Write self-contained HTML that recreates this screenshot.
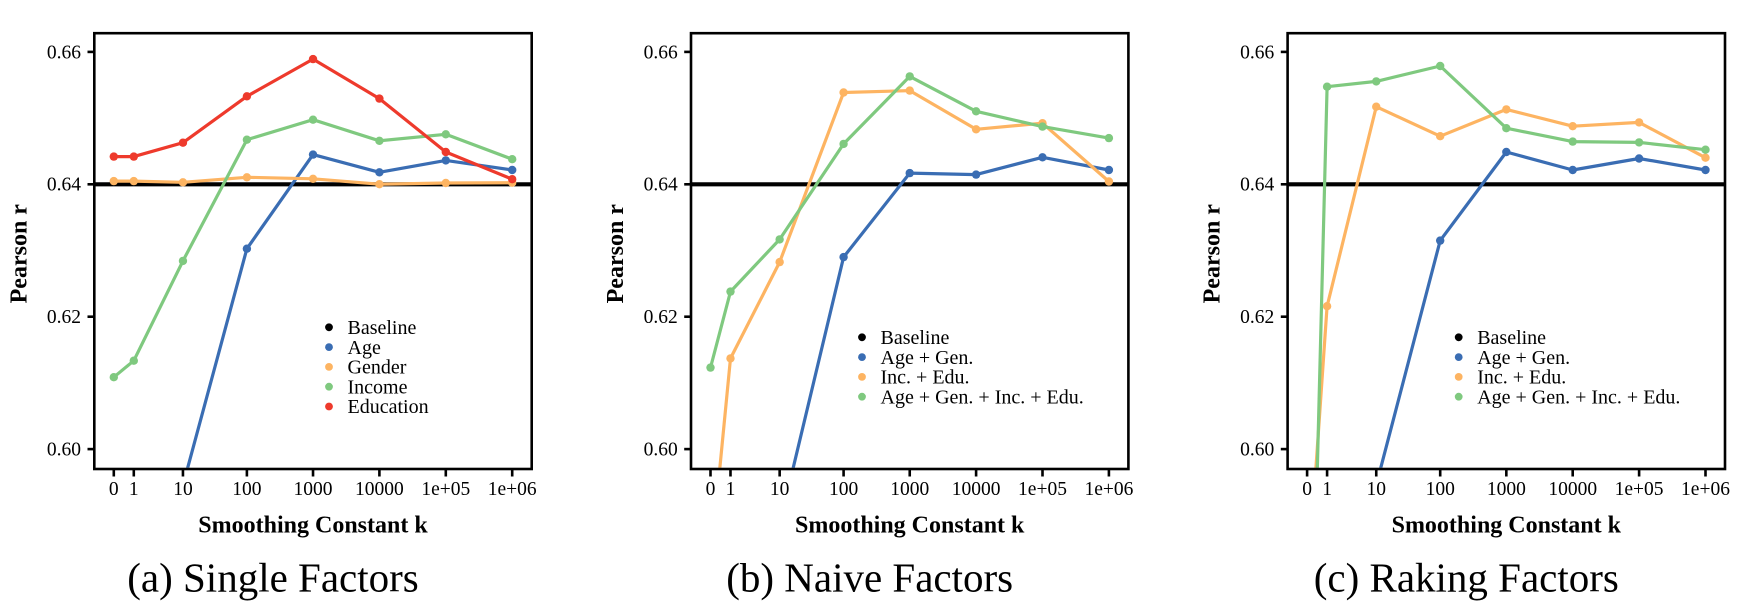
<!DOCTYPE html>
<html><head><meta charset="utf-8"><style>
html,body{margin:0;padding:0;background:#fff;width:1740px;height:602px;overflow:hidden;}
svg{display:block;}
text{font-family:"Liberation Serif",serif;fill:#000;}
.tk{font-size:19.5px;}
.lg{font-size:20px;}
.ti{font-size:24px;font-weight:bold;}
.cap{font-size:41px;}
</style></head><body>
<svg width="1740" height="602" viewBox="0 0 1740 602" xmlns="http://www.w3.org/2000/svg">
<defs>
<clipPath id="ca"><rect x="95.6" y="34.5" width="434.8" height="433.2"/></clipPath>
<clipPath id="cb"><rect x="692.3" y="34.5" width="434.8" height="433.2"/></clipPath>
<clipPath id="cc"><rect x="1288.9" y="34.5" width="434.8" height="433.2"/></clipPath>
</defs>
<rect width="1740" height="602" fill="#fff"/>

<!-- ================= PANEL A ================= -->
<g>
<line x1="94.3" y1="184.3" x2="531.7" y2="184.3" stroke="#000" stroke-width="4.2"/>
<g clip-path="url(#ca)" fill="none" stroke-width="3.2" stroke-linejoin="round">
<polyline stroke="#3A6DB3" points="187.35,469 246.89,248.7 313.03,154.6 379.4,172.3 445.8,160.4 512.2,170"/>
<polyline stroke="#FDB462" points="113.8,181.1 133.79,181.1 182.95,182.3 246.89,177.3 313.03,178.8 379.4,184.2 445.8,183 512.2,182.7"/>
<polyline stroke="#7FC97F" points="113.8,377.2 133.79,360.7 182.95,260.9 246.89,139.7 313.03,119.7 379.4,140.8 445.8,134.3 512.2,159.2"/>
<polyline stroke="#EE3A2C" points="113.8,156.6 133.79,156.6 182.95,142.7 246.89,96.3 313.03,59.1 379.4,98.6 445.8,152 512.2,179.2"/>
</g>
<g clip-path="url(#ca)">
<g fill="#3A6DB3"><circle cx="246.89" cy="248.7" r="4.2"/><circle cx="313.03" cy="154.6" r="4.2"/><circle cx="379.4" cy="172.3" r="4.2"/><circle cx="445.8" cy="160.4" r="4.2"/><circle cx="512.2" cy="170" r="4.2"/></g>
<g fill="#FDB462"><circle cx="113.8" cy="181.1" r="4.2"/><circle cx="133.79" cy="181.1" r="4.2"/><circle cx="182.95" cy="182.3" r="4.2"/><circle cx="246.89" cy="177.3" r="4.2"/><circle cx="313.03" cy="178.8" r="4.2"/><circle cx="379.4" cy="184.2" r="4.2"/><circle cx="445.8" cy="183" r="4.2"/><circle cx="512.2" cy="182.7" r="4.2"/></g>
<g fill="#7FC97F"><circle cx="113.8" cy="377.2" r="4.2"/><circle cx="133.79" cy="360.7" r="4.2"/><circle cx="182.95" cy="260.9" r="4.2"/><circle cx="246.89" cy="139.7" r="4.2"/><circle cx="313.03" cy="119.7" r="4.2"/><circle cx="379.4" cy="140.8" r="4.2"/><circle cx="445.8" cy="134.3" r="4.2"/><circle cx="512.2" cy="159.2" r="4.2"/></g>
<g fill="#EE3A2C"><circle cx="113.8" cy="156.6" r="4.2"/><circle cx="133.79" cy="156.6" r="4.2"/><circle cx="182.95" cy="142.7" r="4.2"/><circle cx="246.89" cy="96.3" r="4.2"/><circle cx="313.03" cy="59.1" r="4.2"/><circle cx="379.4" cy="98.6" r="4.2"/><circle cx="445.8" cy="152" r="4.2"/><circle cx="512.2" cy="179.2" r="4.2"/></g>
</g>
<rect x="94.3" y="33.2" width="437.4" height="435.8" fill="none" stroke="#000" stroke-width="2.6"/>
<g stroke="#000" stroke-width="2.6">
<line x1="87.5" y1="51.9" x2="94.3" y2="51.9"/><line x1="87.5" y1="184.3" x2="94.3" y2="184.3"/><line x1="87.5" y1="316.7" x2="94.3" y2="316.7"/><line x1="87.5" y1="449.1" x2="94.3" y2="449.1"/>
<line x1="113.8" y1="469" x2="113.8" y2="476.5"/><line x1="133.79" y1="469" x2="133.79" y2="476.5"/><line x1="182.95" y1="469" x2="182.95" y2="476.5"/><line x1="246.89" y1="469" x2="246.89" y2="476.5"/><line x1="313.03" y1="469" x2="313.03" y2="476.5"/><line x1="379.4" y1="469" x2="379.4" y2="476.5"/><line x1="445.8" y1="469" x2="445.8" y2="476.5"/><line x1="512.2" y1="469" x2="512.2" y2="476.5"/>
</g>
<g class="tk" text-anchor="end"><text x="81" y="58.3">0.66</text><text x="81" y="190.7">0.64</text><text x="81" y="323.1">0.62</text><text x="81" y="455.5">0.60</text></g>
<g class="tk" text-anchor="middle"><text x="113.8" y="495">0</text><text x="133.79" y="495">1</text><text x="182.95" y="495">10</text><text x="246.89" y="495">100</text><text x="313.03" y="495">1000</text><text x="379.4" y="495">10000</text><text x="445.8" y="495">1e+05</text><text x="512.2" y="495">1e+06</text></g>
<text class="ti" x="313" y="532.7" text-anchor="middle">Smoothing Constant k</text>
<text class="ti" transform="translate(26.3,253.7) rotate(-90)" text-anchor="middle">Pearson r</text>
<g><circle cx="329" cy="327.3" r="3.9" fill="#000"/><circle cx="329" cy="347.1" r="3.9" fill="#3A6DB3"/><circle cx="329" cy="366.9" r="3.9" fill="#FDB462"/><circle cx="329" cy="386.7" r="3.9" fill="#7FC97F"/><circle cx="329" cy="406.5" r="3.9" fill="#EE3A2C"/></g>
<g class="lg"><text x="347.5" y="334">Baseline</text><text x="347.5" y="353.8">Age</text><text x="347.5" y="373.6">Gender</text><text x="347.5" y="393.4">Income</text><text x="347.5" y="413.2">Education</text></g>
<text class="cap" x="273" y="591.7" text-anchor="middle">(a) Single Factors</text>
</g>

<!-- ================= PANEL B ================= -->
<g>
<line x1="691" y1="184.3" x2="1128.4" y2="184.3" stroke="#000" stroke-width="4.2"/>
<g clip-path="url(#cb)" fill="none" stroke-width="3.2" stroke-linejoin="round">
<polyline stroke="#3A6DB3" points="792.92,469 843.59,257.1 909.73,173.1 976.1,174.6 1042.5,157.3 1108.9,170"/>
<polyline stroke="#FDB462" points="719.74,469 730.49,358.4 779.65,262.1 843.59,92.5 909.73,90.6 976.1,129.3 1042.5,123.2 1108.9,181.5"/>
<polyline stroke="#7FC97F" points="710.5,367.6 730.49,291.6 779.65,239.4 843.59,143.9 909.73,76.4 976.1,111.3 1042.5,126.6 1108.9,138.1"/>
</g>
<g clip-path="url(#cb)">
<g fill="#3A6DB3"><circle cx="843.59" cy="257.1" r="4.2"/><circle cx="909.73" cy="173.1" r="4.2"/><circle cx="976.1" cy="174.6" r="4.2"/><circle cx="1042.5" cy="157.3" r="4.2"/><circle cx="1108.9" cy="170" r="4.2"/></g>
<g fill="#FDB462"><circle cx="730.49" cy="358.4" r="4.2"/><circle cx="779.65" cy="262.1" r="4.2"/><circle cx="843.59" cy="92.5" r="4.2"/><circle cx="909.73" cy="90.6" r="4.2"/><circle cx="976.1" cy="129.3" r="4.2"/><circle cx="1042.5" cy="123.2" r="4.2"/><circle cx="1108.9" cy="181.5" r="4.2"/></g>
<g fill="#7FC97F"><circle cx="710.5" cy="367.6" r="4.2"/><circle cx="730.49" cy="291.6" r="4.2"/><circle cx="779.65" cy="239.4" r="4.2"/><circle cx="843.59" cy="143.9" r="4.2"/><circle cx="909.73" cy="76.4" r="4.2"/><circle cx="976.1" cy="111.3" r="4.2"/><circle cx="1042.5" cy="126.6" r="4.2"/><circle cx="1108.9" cy="138.1" r="4.2"/></g>
</g>
<rect x="691" y="33.2" width="437.4" height="435.8" fill="none" stroke="#000" stroke-width="2.6"/>
<g stroke="#000" stroke-width="2.6">
<line x1="684.2" y1="51.9" x2="691" y2="51.9"/><line x1="684.2" y1="184.3" x2="691" y2="184.3"/><line x1="684.2" y1="316.7" x2="691" y2="316.7"/><line x1="684.2" y1="449.1" x2="691" y2="449.1"/>
<line x1="710.5" y1="469" x2="710.5" y2="476.5"/><line x1="730.49" y1="469" x2="730.49" y2="476.5"/><line x1="779.65" y1="469" x2="779.65" y2="476.5"/><line x1="843.59" y1="469" x2="843.59" y2="476.5"/><line x1="909.73" y1="469" x2="909.73" y2="476.5"/><line x1="976.1" y1="469" x2="976.1" y2="476.5"/><line x1="1042.5" y1="469" x2="1042.5" y2="476.5"/><line x1="1108.9" y1="469" x2="1108.9" y2="476.5"/>
</g>
<g class="tk" text-anchor="end"><text x="677.7" y="58.3">0.66</text><text x="677.7" y="190.7">0.64</text><text x="677.7" y="323.1">0.62</text><text x="677.7" y="455.5">0.60</text></g>
<g class="tk" text-anchor="middle"><text x="710.5" y="495">0</text><text x="730.49" y="495">1</text><text x="779.65" y="495">10</text><text x="843.59" y="495">100</text><text x="909.73" y="495">1000</text><text x="976.1" y="495">10000</text><text x="1042.5" y="495">1e+05</text><text x="1108.9" y="495">1e+06</text></g>
<text class="ti" x="909.7" y="532.7" text-anchor="middle">Smoothing Constant k</text>
<text class="ti" transform="translate(623,253.7) rotate(-90)" text-anchor="middle">Pearson r</text>
<g><circle cx="862" cy="337.3" r="3.9" fill="#000"/><circle cx="862" cy="357.1" r="3.9" fill="#3A6DB3"/><circle cx="862" cy="376.9" r="3.9" fill="#FDB462"/><circle cx="862" cy="396.7" r="3.9" fill="#7FC97F"/></g>
<g class="lg"><text x="880.5" y="344">Baseline</text><text x="880.5" y="363.8">Age + Gen.</text><text x="880.5" y="383.6">Inc. + Edu.</text><text x="880.5" y="403.4">Age + Gen. + Inc. + Edu.</text></g>
<text class="cap" x="869.7" y="591.7" text-anchor="middle">(b) Naive Factors</text>
</g>

<!-- ================= PANEL C ================= -->
<g>
<line x1="1287.6" y1="184.3" x2="1725" y2="184.3" stroke="#000" stroke-width="4.2"/>
<g clip-path="url(#cc)" fill="none" stroke-width="3.2" stroke-linejoin="round">
<polyline stroke="#3A6DB3" points="1380.44,469 1440.19,240.6 1506.33,152 1572.7,170 1639.1,158.5 1705.5,170"/>
<polyline stroke="#FDB462" points="1315.85,469 1327.09,306.2 1376.25,106.7 1440.19,136.2 1506.33,109.4 1572.7,126.2 1639.1,122.4 1705.5,157.7"/>
<polyline stroke="#7FC97F" points="1317.32,469 1327.09,86.7 1376.25,81.4 1440.19,66 1506.33,128.2 1572.7,141.6 1639.1,142.4 1705.5,149.7"/>
</g>
<g clip-path="url(#cc)">
<g fill="#3A6DB3"><circle cx="1440.19" cy="240.6" r="4.2"/><circle cx="1506.33" cy="152" r="4.2"/><circle cx="1572.7" cy="170" r="4.2"/><circle cx="1639.1" cy="158.5" r="4.2"/><circle cx="1705.5" cy="170" r="4.2"/></g>
<g fill="#FDB462"><circle cx="1327.09" cy="306.2" r="4.2"/><circle cx="1376.25" cy="106.7" r="4.2"/><circle cx="1440.19" cy="136.2" r="4.2"/><circle cx="1506.33" cy="109.4" r="4.2"/><circle cx="1572.7" cy="126.2" r="4.2"/><circle cx="1639.1" cy="122.4" r="4.2"/><circle cx="1705.5" cy="157.7" r="4.2"/></g>
<g fill="#7FC97F"><circle cx="1327.09" cy="86.7" r="4.2"/><circle cx="1376.25" cy="81.4" r="4.2"/><circle cx="1440.19" cy="66" r="4.2"/><circle cx="1506.33" cy="128.2" r="4.2"/><circle cx="1572.7" cy="141.6" r="4.2"/><circle cx="1639.1" cy="142.4" r="4.2"/><circle cx="1705.5" cy="149.7" r="4.2"/></g>
</g>
<rect x="1287.6" y="33.2" width="437.4" height="435.8" fill="none" stroke="#000" stroke-width="2.6"/>
<g stroke="#000" stroke-width="2.6">
<line x1="1280.8" y1="51.9" x2="1287.6" y2="51.9"/><line x1="1280.8" y1="184.3" x2="1287.6" y2="184.3"/><line x1="1280.8" y1="316.7" x2="1287.6" y2="316.7"/><line x1="1280.8" y1="449.1" x2="1287.6" y2="449.1"/>
<line x1="1307.1" y1="469" x2="1307.1" y2="476.5"/><line x1="1327.09" y1="469" x2="1327.09" y2="476.5"/><line x1="1376.25" y1="469" x2="1376.25" y2="476.5"/><line x1="1440.19" y1="469" x2="1440.19" y2="476.5"/><line x1="1506.33" y1="469" x2="1506.33" y2="476.5"/><line x1="1572.7" y1="469" x2="1572.7" y2="476.5"/><line x1="1639.1" y1="469" x2="1639.1" y2="476.5"/><line x1="1705.5" y1="469" x2="1705.5" y2="476.5"/>
</g>
<g class="tk" text-anchor="end"><text x="1274.3" y="58.3">0.66</text><text x="1274.3" y="190.7">0.64</text><text x="1274.3" y="323.1">0.62</text><text x="1274.3" y="455.5">0.60</text></g>
<g class="tk" text-anchor="middle"><text x="1307.1" y="495">0</text><text x="1327.09" y="495">1</text><text x="1376.25" y="495">10</text><text x="1440.19" y="495">100</text><text x="1506.33" y="495">1000</text><text x="1572.7" y="495">10000</text><text x="1639.1" y="495">1e+05</text><text x="1705.5" y="495">1e+06</text></g>
<text class="ti" x="1506.3" y="532.7" text-anchor="middle">Smoothing Constant k</text>
<text class="ti" transform="translate(1219.6,253.7) rotate(-90)" text-anchor="middle">Pearson r</text>
<g><circle cx="1458.7" cy="337.3" r="3.9" fill="#000"/><circle cx="1458.7" cy="357.1" r="3.9" fill="#3A6DB3"/><circle cx="1458.7" cy="376.9" r="3.9" fill="#FDB462"/><circle cx="1458.7" cy="396.7" r="3.9" fill="#7FC97F"/></g>
<g class="lg"><text x="1477.2" y="344">Baseline</text><text x="1477.2" y="363.8">Age + Gen.</text><text x="1477.2" y="383.6">Inc. + Edu.</text><text x="1477.2" y="403.4">Age + Gen. + Inc. + Edu.</text></g>
<text class="cap" x="1466.3" y="591.7" text-anchor="middle">(c) Raking Factors</text>
</g>
</svg>
</body></html>
